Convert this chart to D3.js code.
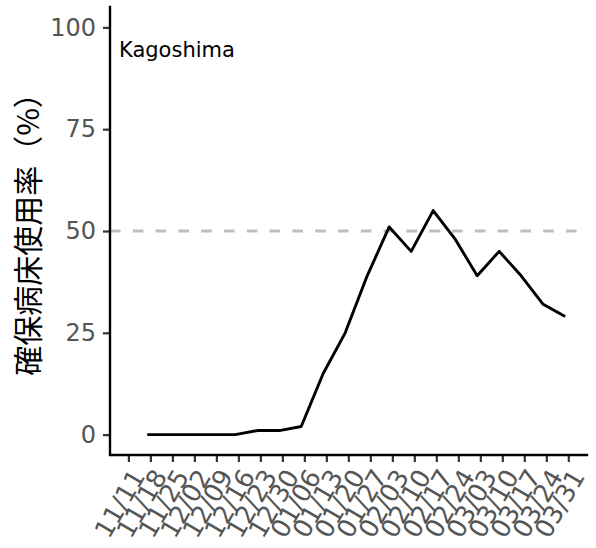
<!DOCTYPE html>
<html>
<head>
<meta charset="utf-8">
<script src="https://cdn.jsdelivr.net/npm/d3@7"></script>
<style>
  html, body { margin: 0; padding: 0; background: #fff; }
  svg { display: block; }
</style>
</head>
<body>
<svg id="chart" width="596" height="548"></svg>
<script>
// ---- data ----
const prefecture = "Kagoshima";
const yTitle = "確保病床使用率（%）";
const dates = ["2020-11-17","2020-11-24","2020-12-01","2020-12-08","2020-12-15",
  "2020-12-22","2020-12-29","2021-01-05","2021-01-12","2021-01-19","2021-01-26",
  "2021-02-02","2021-02-09","2021-02-16","2021-02-23","2021-03-02","2021-03-09",
  "2021-03-16","2021-03-23","2021-03-30"];
const occupancy = [0,0,0,0,0,1,1,2,15,25,39,51,45,55,48,39,45,39,32,29];
const xTickLabels = ["2020-11-11","2020-11-18","2020-11-25","2020-12-02","2020-12-09",
  "2020-12-16","2020-12-23","2020-12-30","2021-01-06","2021-01-13","2021-01-20",
  "2021-01-27","2021-02-03","2021-02-10","2021-02-17","2021-02-24","2021-03-03",
  "2021-03-10","2021-03-17","2021-03-24","2021-03-31"];
const yTicks = [0,25,50,75,100];
const refLine = 50;

// ---- layout ----
const panel = {left: 110, right: 587, top: 7, bottom: 455};
const parse = d3.timeParse("%Y-%m-%d");
const DAY = 86400000;
const tickDates = xTickLabels.map(parse);
const data = dates.map((d, i) => ({date: parse(d), value: occupancy[i]}));

const x = d3.scaleTime()
  .domain([new Date(+tickDates[0] - 5.85 * DAY), new Date(+tickDates[tickDates.length - 1] + 5.95 * DAY)])
  .range([panel.left, panel.right]);
const y = d3.scaleLinear().domain([-5, 105]).range([panel.bottom, panel.top]);

const svg = d3.select("#chart");
const labelFont = "'DejaVu Sans', Verdana, sans-serif";

// reference line
svg.append("line")
  .attr("x1", panel.left).attr("x2", panel.right)
  .attr("y1", y(refLine)).attr("y2", y(refLine))
  .attr("stroke", "#bebebe").attr("stroke-width", 2.8)
  .attr("stroke-dasharray", "10.6,12.2");

// data line
svg.append("path")
  .datum(data)
  .attr("fill", "none")
  .attr("stroke", "#000")
  .attr("stroke-width", 2.9)
  .attr("stroke-linejoin", "round")
  .attr("d", d3.line().x(d => x(d.date)).y(d => y(d.value)));

// y axis
const gy = svg.append("g")
  .attr("transform", `translate(${panel.left},0)`)
  .call(d3.axisLeft(y).tickValues(yTicks).tickSize(7).tickPadding(7));
gy.select(".domain").remove();
gy.selectAll(".tick line").attr("stroke", "#333").attr("stroke-width", 2.2);
gy.selectAll(".tick text")
  .attr("fill", "#555")
  .style("font-family", labelFont)
  .style("font-size", "24px");

// x axis
const gx = svg.append("g")
  .attr("transform", `translate(0,${panel.bottom})`)
  .call(d3.axisBottom(x).tickValues(tickDates).tickFormat(d3.timeFormat("%m/%d")).tickSize(7));
gx.select(".domain").remove();
gx.selectAll(".tick line").attr("stroke", "#333").attr("stroke-width", 2.2);
gx.selectAll(".tick text")
  .attr("fill", "#555")
  .attr("x", 0).attr("y", 0)
  .attr("dy", "0.72em")
  .attr("text-anchor", "end")
  .attr("transform", "translate(1,12) rotate(-60)")
  .style("font-family", labelFont)
  .style("font-size", "25.5px");

// axis lines
svg.append("path")
  .attr("d", `M${panel.left},${panel.top}V${panel.bottom}H${panel.right}`)
  .attr("fill", "none").attr("stroke", "#000").attr("stroke-width", 2.4)
  .attr("stroke-linecap", "square");

// panel label
svg.append("text")
  .attr("x", 119).attr("y", 56.5)
  .attr("fill", "#000")
  .style("font-family", labelFont)
  .style("font-size", "21px")
  .text(prefecture);

// y title
svg.append("text")
  .attr("transform", `translate(26,${(panel.top + panel.bottom) / 2 - 4}) rotate(-90)`)
  .attr("text-anchor", "middle")
  .attr("dominant-baseline", "central")
  .attr("fill", "#000")
  .style("font-family", "'Noto Sans CJK JP', sans-serif")
  .style("font-size", "30px")
  .text(yTitle);
</script>
</body>
</html>
